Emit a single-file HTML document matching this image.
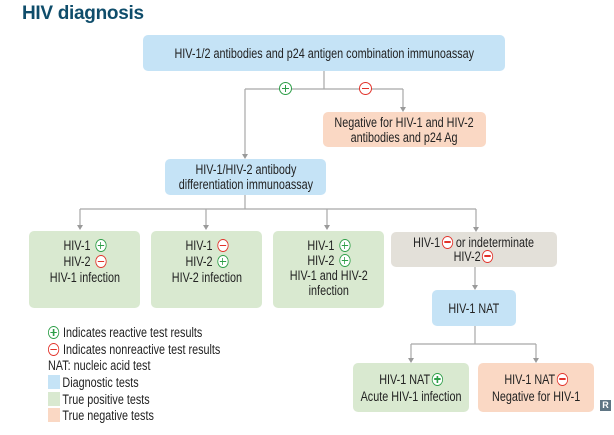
<!DOCTYPE html>
<html><head><meta charset="utf-8"><style>
body{margin:0;width:614px;height:435px;background:#fff;position:relative;overflow:hidden;font-family:"Liberation Sans",sans-serif;color:#222;font-size:13.5px}
.b{position:absolute;border-radius:5px;display:flex;align-items:center;justify-content:center;text-align:center;line-height:15px;white-space:nowrap}
.b>div{transform:scaleX(0.8)}
.bl{background:#c5e3f6}.gr{background:#d9e9d0}.pk{background:#fad8c4}.gy{background:#e3e0d9}
.p,.m{display:inline-block;width:14px;height:13px;border-radius:50%;box-sizing:border-box;vertical-align:-2px;position:relative;background:#fff;margin-left:2px}
.p{border:1.4px solid #2e9e48;color:#2e9e48}.m{border:1.4px solid #e2332b;color:#e2332b}
.p:before,.m:before{content:"";position:absolute;left:2px;right:2px;top:50%;height:1.5px;margin-top:-0.75px;background:currentColor}
.p:after{content:"";position:absolute;top:2px;bottom:2px;left:50%;width:1.5px;margin-left:-0.75px;background:#2e9e48}
.lg{position:absolute;left:48px;white-space:nowrap;transform:scaleX(0.8);transform-origin:0 0}
.lg .p,.lg .m{margin-left:0;margin-right:1px}
.sw{display:inline-block;width:15px;height:14px;vertical-align:-2px;margin-right:3px}
</style></head><body>
<div style="position:absolute;left:22px;top:3px;font-weight:bold;font-size:19px;color:#0f4d6b;letter-spacing:-0.3px">HIV diagnosis</div>
<svg width="614" height="435" style="position:absolute;left:0;top:0">
<g stroke="#a8a8a8" stroke-width="1.2" fill="none">
<path d="M324 71V89M245 89H403"/>
<path d="M403 89V110M245 89V157"/>
<path d="M245 195V209M80 209H476"/>
<path d="M80 209V228M206 209V228M327 209V228M476 209V230"/>
<path d="M475 267V288M475 326V344M411 344H536M411 344V361M536 344V361"/>
</g>
<g fill="#9a9a9a">
<path d="M400 107h6l-3 5z"/><path d="M242 154h6l-3 5z"/>
<path d="M77 225h6l-3 5z"/><path d="M203 225h6l-3 5z"/><path d="M324 225h6l-3 5z"/><path d="M473 227h6l-3 5z"/>
<path d="M472 285h6l-3 5z"/><path d="M408 358h6l-3 5z"/><path d="M533 358h6l-3 5z"/>
</g>
</svg>
<span class="p" style="position:absolute;left:279px;top:82px;margin:0;width:13px"></span>
<span class="m" style="position:absolute;left:359px;top:82px;margin:0;width:13px"></span>
<div class="b bl" style="left:143px;top:35px;width:362px;height:36px"><div>HIV-1/2 antibodies and p24 antigen combination immunoassay</div></div>
<div class="b pk" style="left:323px;top:112px;width:163px;height:35px"><div>Negative for HIV-1 and HIV-2<br>antibodies and p24 Ag</div></div>
<div class="b bl" style="left:165px;top:159px;width:161px;height:36px"><div>HIV-1/HIV-2 antibody<br>differentiation immunoassay</div></div>
<div class="b gr" style="left:29px;top:231px;width:111px;height:77px;align-items:flex-start;padding-top:7px;box-sizing:border-box">
<div style="line-height:16px">HIV-1 <span class="p"></span><br>HIV-2 <span class="m"></span><br>HIV-1 infection</div></div>
<div class="b gr" style="left:151px;top:231px;width:111px;height:77px;align-items:flex-start;padding-top:7px;box-sizing:border-box">
<div style="line-height:16px">HIV-1 <span class="m"></span><br>HIV-2 <span class="p"></span><br>HIV-2 infection</div></div>
<div class="b gr" style="left:273px;top:231px;width:111px;height:77px;align-items:flex-start;padding-top:7px;box-sizing:border-box">
<div style="line-height:15px">HIV-1 <span class="p"></span><br>HIV-2 <span class="p"></span><br>HIV-1 and HIV-2<br>infection</div></div>
<div class="b gy" style="left:391px;top:232px;width:166px;height:35px"><div style="line-height:14px">HIV-1<span class="m"></span> or indeterminate<br>HIV-2<span class="m"></span></div></div>
<div class="b bl" style="left:432px;top:290px;width:84px;height:36px"><div>HIV-1 NAT</div></div>
<div class="b gr" style="left:353px;top:363px;width:116px;height:49px"><div style="line-height:17px">HIV-1 NAT<span class="p"></span><br>Acute HIV-1 infection</div></div>
<div class="b pk" style="left:478px;top:363px;width:116px;height:49px"><div style="line-height:17px">HIV-1 NAT<span class="m"></span><br>Negative for HIV-1</div></div>
<div class="lg" style="top:325px"><span class="p"></span> Indicates reactive test results</div>
<div class="lg" style="top:342px"><span class="m"></span> Indicates nonreactive test results</div>
<div class="lg" style="top:358px">NAT: nucleic acid test</div>
<div class="lg" style="top:375px"><span class="sw" style="background:#c5e3f6"></span>Diagnostic tests</div>
<div class="lg" style="top:392px"><span class="sw" style="background:#d9e9d0"></span>True positive tests</div>
<div class="lg" style="top:408px"><span class="sw" style="background:#fad8c4"></span>True negative tests</div>
<div style="position:absolute;left:600px;top:400px;width:11px;height:11px;background:#5f7584;color:#fff;font-size:9px;font-weight:bold;line-height:11px;text-align:center">R</div>
</body></html>
